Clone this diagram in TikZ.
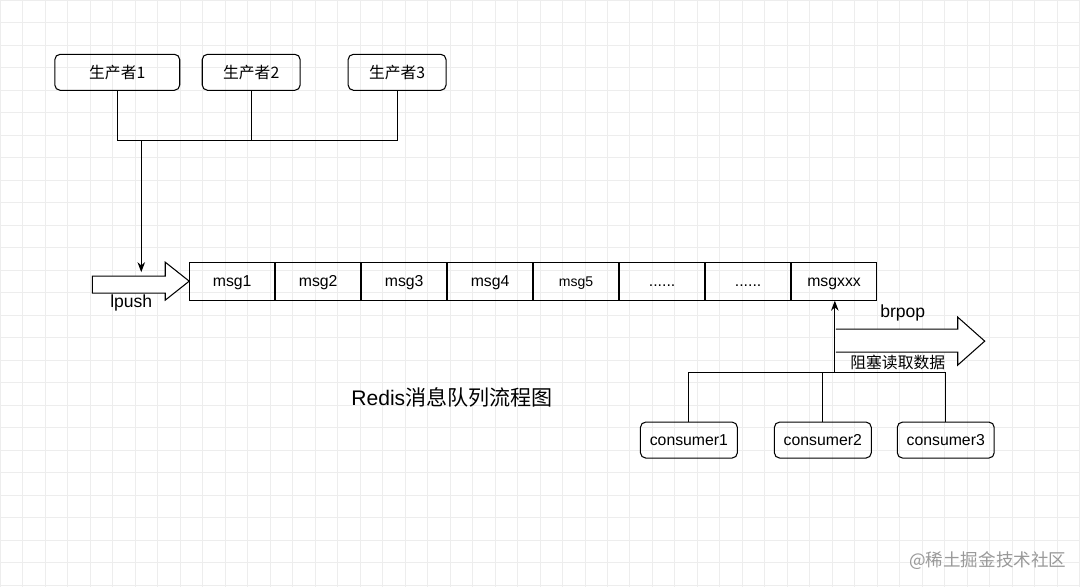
\documentclass[tikz,border=0pt]{standalone}
\usepackage{fontspec}
\setmainfont{Liberation Sans}
\newfontfamily\cjk{Noto Sans CJK SC}
\usetikzlibrary{arrows.meta,positioning}
\newcommand\qdots{......}

\begin{document}
\begin{tikzpicture}[%
	x=0.02cm,y=-0.02cm,>={Stealth},semithick,
	box/.style={draw,rounded corners=3pt,minimum height=0.72cm,font=\small},
	cell/.style={draw,minimum width=1.7cm,minimum height=0.76cm,inner sep=0pt,
		text height=1.6ex,text depth=0.4ex,font=\small}]

	\fill[white] (0,0) rectangle (1080,587);
	\draw[black!7,thin,step=0.45cm] (0,0) grid (1080,587);
	\useasboundingbox (0,0) rectangle (1080,587);

	% producers
	\node[box,minimum width=2.5cm]	(P1)	at (117,72)	{\cjk 生产者1};
	\node[box,minimum width=1.96cm]	(P2)	at (251,72)	{\cjk 生产者2};
	\node[box,minimum width=1.96cm]	(P3)	at (397,72)	{\cjk 生产者3};

	\coordinate (J1) at (P1.south |- 0,140);
	\coordinate (J3) at (P3.south |- 0,140);
	\draw (P1.south) -- (J1) -- (J3) -- (P3.south);
	\draw (P2.south) -- (P2.south |- J1);

	% queue
	\node[cell]	(M1)	at (232,281)	{msg1};
	\foreach \t [count=\i from 2, remember=\i as \j (initially 1)] in
		{msg2,msg3,msg4,{\footnotesize msg5},\qdots,\qdots,msgxxx}
		\node[cell,right=0pt of M\j]	(M\i)	{\t};

	% lpush arrow
	\draw[fill=white] (92,276) -- (165,276) -- (165,262) -- (M1.west) -- (165,300)
		-- (165,293) -- (92,293) -- cycle;
	\coordinate (J0) at (141,140);
	\draw[->] (J0) -- (141,272);
	\node	(LPT)	at (131,303)	{lpush};

	% consumers
	\node[box,minimum width=1.94cm]	(C1)	at (689,440)	{consumer1};
	\node[box,minimum width=1.94cm]	(C2)	at (823,440)	{consumer2};
	\node[box,minimum width=1.94cm]	(C3)	at (946,440)	{consumer3};

	\coordinate (K1) at (C1.north |- 0,372);
	\coordinate (K3) at (C3.north |- 0,372);
	\draw (C1.north) -- (K1) -- (K3) -- (C3.north);
	\draw (C2.north) -- (C2.north |- K1);
	\draw[->] (835,372) -- (M8.south -| 835,0);

	% brpop arrow
	\draw[fill=white] (836,329) -- (958,329) -- (958,317) -- (985,341) -- (958,365)
		-- (958,352) -- (836,352);
	\node	(BPT)	at (903,313)	{brpop};
	\node[font=\cjk\small]	(BPN)	at (898,362)	{阻塞读取数据};

	\node[font=\large]	(TTL)	at (452,397)	{Redis{\cjk 消息队列流程图}};
	\node[font=\cjk,text=black!40]	(WM)	at (988,561)	{@稀土掘金技术社区};
\end{tikzpicture}
\end{document}
